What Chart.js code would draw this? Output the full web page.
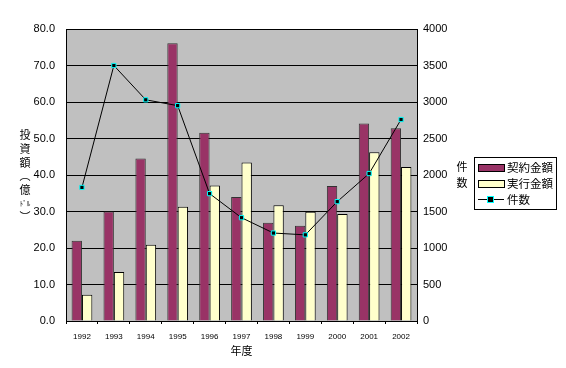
<!DOCTYPE html>
<html>
<head>
<meta charset="utf-8">
<script src="https://cdn.jsdelivr.net/npm/chart.js@4/dist/chart.umd.min.js"></script>
<style>
html,body{margin:0;padding:0;background:#fff;}
#wrap{width:566px;height:368px;position:relative;}
</style>
</head>
<body>
<div id="wrap"><canvas id="c" width="566" height="368"></canvas></div>
<script>
const years = ['1992','1993','1994','1995','1996','1997','1998','1999','2000','2001','2002'];
const contractAmount = [22.0, 30.0, 44.5, 76.1, 51.6, 34.0, 26.9, 26.1, 37.0, 54.1, 52.8];
const executedAmount = [7.2, 13.4, 20.9, 31.3, 37.1, 43.4, 31.7, 29.9, 29.3, 46.2, 42.2];
const caseCount = [1830, 3500, 3030, 2950, 1745, 1415, 1205, 1180, 1635, 2020, 2760];
const leftTicks = [0,10,20,30,40,50,60,70,80];
const rightTicks = [0,500,1000,1500,2000,2500,3000,3500,4000];
const seriesNames = ['契約金額','実行金額','件数'];
const leftTitleChars = ['投','資','額','︵','億','ﾄﾞﾙ','︶'];
const rightTitleChars = ['件','数'];
const xTitle = '年度';

const NUMFONT = "'Liberation Sans', Arial, sans-serif";
const JPFONT = "'Noto Sans CJK JP', sans-serif";

const purple = '#993366', yellow = '#FFFFCC';

const decor = {
  id: 'decor',
  beforeDraw(chart) {
    const {ctx, chartArea: a} = chart;
    ctx.save();
    ctx.fillStyle = '#C0C0C0';
    ctx.fillRect(a.left, a.top, a.right - a.left, a.bottom - a.top);
    ctx.restore();
  },
  afterDraw(chart) {
    const {ctx, chartArea: a} = chart;
    ctx.save();
    ctx.fillStyle = '#000';
    ctx.textAlign = 'center';
    ctx.textBaseline = 'middle';
    // left title (vertical stacked)
    const ly = [135,149,163,176,190,203,217];
    leftTitleChars.forEach((ch, i) => {
      ctx.font = (ch === 'ﾄﾞﾙ' ? '7px ' : '11px ') + JPFONT;
      ctx.fillText(ch, 25, ly[i]);
    });
    // right title
    ctx.font = '11px ' + JPFONT;
    rightTitleChars.forEach((ch, i) => ctx.fillText(ch, 462, 167 + i * 16));
    // x title
    ctx.font = '11px ' + JPFONT;
    ctx.fillText(xTitle, (a.left + a.right) / 2, 351);
    // legend
    const bx = 474, by = 157, bw = 82, bh = 52;
    ctx.fillStyle = '#fff';
    ctx.fillRect(bx, by, bw, bh);
    ctx.strokeStyle = '#000';
    ctx.lineWidth = 1;
    ctx.strokeRect(bx + 0.5, by + 0.5, bw, bh);
    const rows = [167, 183, 199];
    ctx.textAlign = 'left';
    ctx.font = '11.5px ' + JPFONT;
    ctx.fillStyle = purple;
    ctx.fillRect(478, rows[0] - 3, 26, 7);
    ctx.strokeStyle = '#000';
    ctx.strokeRect(478.5, rows[0] - 3 + 0.5, 26, 7);
    ctx.fillStyle = yellow;
    ctx.fillRect(478, rows[1] - 3, 26, 7);
    ctx.strokeRect(478.5, rows[1] - 3 + 0.5, 26, 7);
    ctx.beginPath();
    ctx.moveTo(478, rows[2] + 0.5);
    ctx.lineTo(504, rows[2] + 0.5);
    ctx.stroke();
    ctx.fillStyle = '#000';
    ctx.fillRect(488, rows[2] - 2, 5, 5);
    ctx.strokeStyle = '#00FFFF';
    ctx.strokeRect(487.5, rows[2] - 2.5, 6, 6);
    ctx.fillStyle = '#000';
    seriesNames.forEach((n, i) => ctx.fillText(n, 507, rows[i] + 0.5));
    ctx.restore();
  }
};

new Chart(document.getElementById('c'), {
  data: {
    labels: years,
    datasets: [
      {type: 'line', label: seriesNames[2], data: caseCount, yAxisID: 'y1', order: 0,
       borderColor: '#000', borderWidth: 1, tension: 0, pointStyle: 'rect',
       pointRadius: 3, pointBackgroundColor: '#000', pointBorderColor: '#00FFFF', pointBorderWidth: 1},
      {type: 'bar', label: seriesNames[0], data: contractAmount, yAxisID: 'y', order: 1,
       backgroundColor: purple, borderColor: '#333', borderWidth: 1,
       categoryPercentage: 0.65, barPercentage: 1.0},
      {type: 'bar', label: seriesNames[1], data: executedAmount, yAxisID: 'y', order: 1,
       backgroundColor: yellow, borderColor: '#000', borderWidth: 1,
       categoryPercentage: 0.65, barPercentage: 1.0}
    ]
  },
  options: {
    responsive: false,
    animation: false,
    devicePixelRatio: 1,
    layout: {padding: {top: 29, left: 0, right: 0, bottom: 0}},
    plugins: {legend: {display: false}, tooltip: {enabled: false}},
    scales: {
      x: {
        offset: true,
        grid: {display: true, drawOnChartArea: false, color: '#000', tickLength: 3, offset: true},
        border: {color: '#000'},
        ticks: {color: '#000', font: {family: NUMFONT, size: 8}, padding: 8, maxRotation: 0, autoSkip: false},
        afterFit(s) { s.height = 47; }
      },
      y: {
        position: 'left', min: 0, max: 80,
        afterBuildTicks(s) { s.ticks = leftTicks.map(v => ({value: v})); },
        grid: {color: '#000', drawTicks: false},
        border: {color: '#000'},
        ticks: {color: '#000', font: {family: NUMFONT, size: 11}, padding: 11,
                callback: v => v.toFixed(1)},
        afterFit(s) { s.width = 66; }
      },
      y1: {
        position: 'right', min: 0, max: 4000,
        afterBuildTicks(s) { s.ticks = rightTicks.map(v => ({value: v})); },
        grid: {drawOnChartArea: false, drawTicks: false},
        border: {color: '#000'},
        ticks: {color: '#000', font: {family: NUMFONT, size: 11}, padding: 6,
                callback: v => String(v)},
        afterFit(s) { s.width = 149; }
      }
    }
  },
  plugins: [decor]
});
</script>
</body>
</html>
